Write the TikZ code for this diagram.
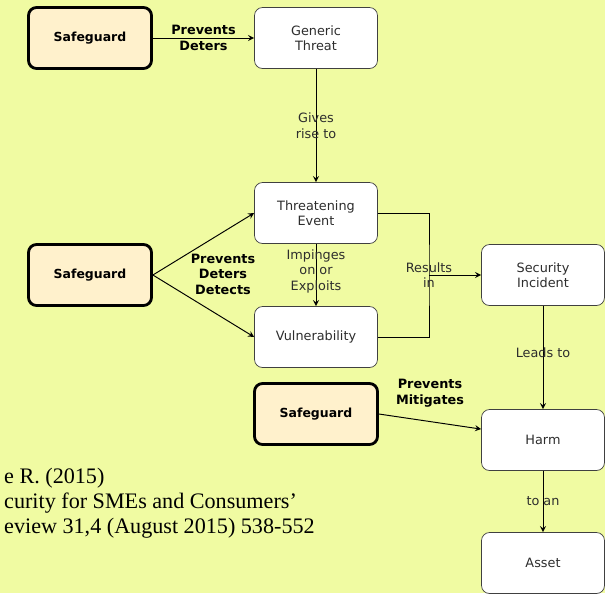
\documentclass[tikz,border=0pt]{standalone}
\usepackage{fontspec}
\setmainfont{Liberation Serif}
\newfontfamily\cajafont{DejaVu Sans}
\usetikzlibrary{arrows}
\definecolor{fondo}{RGB}{240,251,162}
\definecolor{guardafill}{RGB}{255,241,204}
\definecolor{textogris}{RGB}{45,45,45}
\tikzset{
  caja/.style={draw=black!75, fill=white, rounded corners=0.16cm, minimum width=2.46cm, minimum height=1.22cm, align=center, text=textogris, font=\cajafont\fontsize{7.3}{8.8}\selectfont},
  guarda/.style={caja, draw=black, line width=1.6pt, fill=guardafill, text=black, font=\cajafont\bfseries\fontsize{7.1}{8.8}\selectfont},
  rel/.style={align=center, text=textogris, font=\cajafont\fontsize{7.3}{8.8}\selectfont},
  relb/.style={align=center, text=black, font=\cajafont\bfseries\fontsize{7.3}{8.8}\selectfont},
  flecha/.style={-stealth, line width=0.55pt}
}
\begin{document}
\begin{tikzpicture}[x=0.02cm, y=-0.02cm]
		\useasboundingbox (0,0) rectangle (605,593);
		\fill[fondo] (0,0) rectangle (605,593); %fondo
		\clip (0,0) rectangle (605,593);
		\node[guarda] (sg1) at (90,38) {Safeguard}; %salvaguarda 1
		\node[caja] (gt) at (316,38) {Generic\\Threat};
		\node[caja] (te) at (316,213) {Threatening\\Event};
		\node[guarda] (sg2) at (90,275) {Safeguard}; %salvaguarda 2
		\node[caja] (vu) at (316,337) {Vulnerability};
		\node[caja] (si) at (543,275) {Security\\Incident};
		\node[guarda] (sg3) at (316,414) {Safeguard}; %salvaguarda 3
		\node[caja] (ha) at (543,440) {Harm};
		\node[caja] (as) at (543,563) {Asset};
		\draw[flecha] (sg1) -- node[relb] {Prevents\\Deters} (gt);
		\draw[flecha] (gt) -- node[rel] {Gives\\rise to} (te);
		\draw[flecha] (sg2.east) -- (te.west);
		\draw[flecha] (sg2.east) -- (vu.west);
		\node[relb] (pdd) at (223,274) {Prevents\\Deters\\Detects}; %etiqueta de sg2
		\draw[flecha] (te) -- node[rel, yshift=0.08cm] {Impinges\\on or\\Exploits} (vu);
		\coordinate (codo) at (429,275); %union de te y vu
		\draw[line width=0.55pt] (te.east) -| (codo) |- (vu.east);
		\draw[flecha] (codo) -- (si.west);
		\node[rel] (ri) at (codo) {Results\\in};
		\draw[flecha] (si) -- node[rel, yshift=0.1cm] {Leads to} (ha);
		\draw[flecha] (sg3.east) -- (ha.170);
		\node[relb] (pm) at (430,393) {Prevents\\Mitigates}; %etiqueta de sg3
		\draw[flecha] (ha) -- node[rel] {to an} (as);
		\node[anchor=west, align=left, font=\fontsize{12.6}{14.2}\selectfont] (cita) at (-2,503) {e R. (2015)\\curity for SMEs and Consumers'\\eview 31,4 (August 2015) 538-552}; %referencia
\end{tikzpicture}
\end{document}
